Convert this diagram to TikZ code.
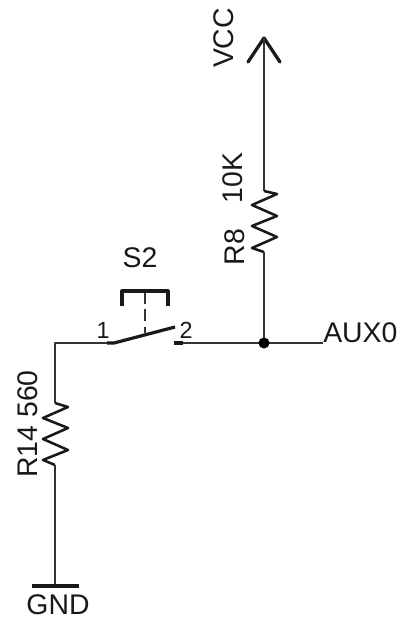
\documentclass[tikz,border=0pt]{standalone}
\usepackage{fontspec}
\setmainfont{Liberation Sans}
\tikzset{
  wire/.style={line width=1.5pt,draw=black!80,line join=round},
  zig/.style={line width=1.9pt,draw=black!90,line join=round},
  thickwire/.style={line width=2.4pt,draw=black!90,line join=round},
  lbl/.style={font=\fontsize{21.3}{24}\selectfont,inner sep=0pt,text=black!90},
  pinlbl/.style={font=\fontsize{17.5}{20}\selectfont,inner sep=0pt,text=black!90},
}
\begin{document}
\begin{tikzpicture}[x=0.75pt,y=-0.75pt]
\useasboundingbox (0,0) rectangle (400,618);
\fill[white] (0,0) rectangle (400,618);
\coordinate (vcctip) at (264,38);
\coordinate (r8top) at (264,191);
\coordinate (r8bot) at (264,252);
\coordinate (junction) at (264,343);
\coordinate (aux) at (323,343);
\coordinate (swl) at (110,343);
\coordinate (swr) at (176,343);
\coordinate (corner) at (55,343);
\coordinate (r14top) at (55,403);
\coordinate (r14bot) at (55,465);
\coordinate (gnd) at (55,586);
% VCC
\draw[thickwire,line cap=round] (248,62) -- (vcctip) -- (280,62);
\draw[wire] (vcctip) -- (r8top);
\draw[zig] (r8top) -- (277,194) -- (252,205) -- (277,216) -- (252,226) -- (277,237) -- (252,248) -- (r8bot);
\draw[wire] (r8bot) -- (junction);
\draw[wire] (swr) -- (aux);
\draw[wire] (swl) -- (corner) -- (r14top);
\draw[zig] (r14top) -- (68,407) -- (43,418) -- (68,428) -- (43,439) -- (68,450) -- (43,460) -- (r14bot);
\draw[wire] (r14bot) -- (gnd);
\draw[thickwire] (32,586) -- (79,586);
\fill[black] (junction) circle (5.5);
% switch
\draw[thickwire] (107,343) -- (114,343) -- (175,327);
\draw[thickwire] (174,343) -- (183,343);
\draw[wire,dash pattern=on 9pt off 4pt] (145,292) -- (145,333);
\draw[thickwire] (122,306) -- (122,291) -- (168,291) -- (168,306);
% labels
\node[lbl] (s2) at (140,257.5) {S2};
\node[pinlbl] (p1) at (103,330) {1};
\node[pinlbl] (p2) at (186,330) {2};
\node[lbl,anchor=west] (auxl) at (323,333) {AUX0};
\node[lbl] (gndl) at (58,605) {GND};
\node[lbl,rotate=90] (vccl) at (224,38) {VCC};
\node[lbl,rotate=90] (r8n) at (235,247) {R8};
\node[lbl,rotate=90] (r8v) at (233,178) {10K};
\node[lbl,rotate=90,anchor=south] (r14) at (38,424) {R14 560};
\end{tikzpicture}
\end{document}
